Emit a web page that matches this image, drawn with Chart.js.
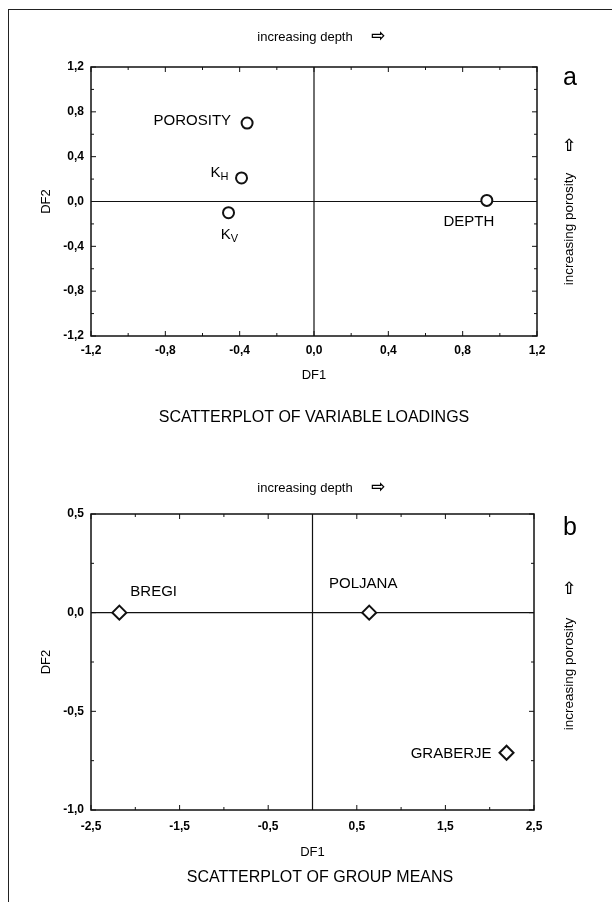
<!DOCTYPE html>
<html>
<head>
<meta charset="utf-8">
<script src="https://cdn.jsdelivr.net/npm/chart.js@4/dist/chart.umd.min.js"></script>
<style>
  body { margin: 0; background: #fff; }
  #page { position: relative; width: 612px; height: 902px; overflow: hidden; }
  #frame { position: absolute; left: 8px; top: 9px; right: 0; bottom: 0; border-top: 1px solid #222; border-left: 1px solid #222; }
  canvas { position: absolute; left: 0; }
</style>
</head>
<body>
<div id="page">
  <div id="frame"></div>
  <canvas id="chartA" width="612" height="450" style="top:0"></canvas>
  <canvas id="chartB" width="612" height="452" style="top:450px"></canvas>
</div>
<script>
// Variable loadings (panel a)
const loadingNames = ['POROSITY', 'K', 'K', 'DEPTH'];
const loadingSubs = ['', 'H', 'V', ''];
const loadingDF1 = [-0.36, -0.39, -0.46, 0.93];
const loadingDF2 = [0.70, 0.21, -0.10, 0.01];

// Group means (panel b)
const groupNames = ['BREGI', 'POLJANA', 'GRABERJE'];
const groupDF1 = [-2.18, 0.64, 2.19];
const groupDF2 = [0.00, 0.00, -0.71];

// Tick values
const ticksA = [-1.2, -0.8, -0.4, 0.0, 0.4, 0.8, 1.2];
const minorA = [-1.0, -0.6, -0.2, 0.2, 0.6, 1.0];
const ticksBX = [-2.5, -1.5, -0.5, 0.5, 1.5, 2.5];
const minorBX = [-2, -1, 0, 1, 2];
const ticksBY = [-1.0, -0.5, 0.0, 0.5];
const minorBY = [-0.75, -0.25, 0.25];

Chart.defaults.font.family = '"Liberation Sans", Arial, sans-serif';
Chart.defaults.color = '#000';

function fmt(v) {
  return Number(v).toFixed(1).replace('.', ',');
}

// label placement next to each point (style only)
const placeA = [
  { align: 'right', dx: -16, dy: -2 },
  { align: 'right', dx: -13, dy: -5 },
  { align: 'center', dx: 1, dy: 22 },
  { align: 'center', dx: -18, dy: 21 }
];
const placeB = [
  { align: 'left', dx: 11, dy: -21 },
  { align: 'center', dx: -6, dy: -29 },
  { align: 'right', dx: -15, dy: 1 }
];

function drawLabel(ctx, text, sub, x, y, align) {
  ctx.font = '15px "Liberation Sans", Arial, sans-serif';
  const w1 = ctx.measureText(text).width;
  ctx.font = '11px "Liberation Sans", Arial, sans-serif';
  const w2 = sub ? ctx.measureText(sub).width : 0;
  const total = w1 + w2;
  let left = x;
  if (align === 'right') left = x - total;
  if (align === 'center') left = x - total / 2;
  ctx.textAlign = 'left';
  ctx.textBaseline = 'middle';
  ctx.font = '15px "Liberation Sans", Arial, sans-serif';
  ctx.fillText(text, left, y);
  if (sub) {
    ctx.font = '11px "Liberation Sans", Arial, sans-serif';
    ctx.fillText(sub, left + w1, y + 4);
  }
}

function decor(opts) {
  return {
    id: 'decor',
    beforeDatasetsDraw(chart) {
      const ctx = chart.ctx;
      const a = chart.chartArea;
      const xs = chart.scales.x, ys = chart.scales.y;
      ctx.save();
      ctx.strokeStyle = '#111';
      // zero lines
      ctx.lineWidth = 1.2;
      ctx.beginPath();
      const x0 = xs.getPixelForValue(0), y0 = ys.getPixelForValue(0);
      ctx.moveTo(x0, a.top); ctx.lineTo(x0, a.bottom);
      ctx.moveTo(a.left, y0); ctx.lineTo(a.right, y0);
      ctx.stroke();
      // box
      ctx.lineWidth = 1.5;
      ctx.strokeRect(a.left, a.top, a.right - a.left, a.bottom - a.top);
      // inward ticks on all sides
      ctx.lineWidth = 1;
      ctx.beginPath();
      const tickX = (vals, len) => vals.forEach(v => {
        const p = xs.getPixelForValue(v);
        ctx.moveTo(p, a.bottom); ctx.lineTo(p, a.bottom - len);
        ctx.moveTo(p, a.top); ctx.lineTo(p, a.top + len);
      });
      const tickY = (vals, len) => vals.forEach(v => {
        const p = ys.getPixelForValue(v);
        ctx.moveTo(a.left, p); ctx.lineTo(a.left + len, p);
        ctx.moveTo(a.right, p); ctx.lineTo(a.right - len, p);
      });
      tickX(xs.ticks.map(t => t.value), 5);
      tickX(opts.minorX, 3);
      tickY(ys.ticks.map(t => t.value), 5);
      tickY(opts.minorY, 3);
      ctx.stroke();
      ctx.restore();
    },
    afterDraw(chart) {
      const ctx = chart.ctx;
      const a = chart.chartArea;
      const meta = chart.getDatasetMeta(0);
      ctx.save();
      ctx.fillStyle = '#000';
      // point labels
      meta.data.forEach((pt, i) => {
        const pl = opts.place[i];
        drawLabel(ctx, opts.names[i], opts.subs[i], pt.x + pl.dx, pt.y + pl.dy, pl.align);
      });
      // top note
      ctx.textBaseline = 'middle';
      ctx.textAlign = 'center';
      ctx.font = '13px "Liberation Sans", Arial, sans-serif';
      ctx.fillText('increasing depth', 305, opts.topY);
      ctx.font = 'bold 17px "DejaVu Sans", sans-serif';
      ctx.fillText('\u21E8', 378, opts.topY);
      // panel letter
      ctx.font = '25px "Liberation Sans", Arial, sans-serif';
      ctx.fillText(opts.letter, 570, opts.letterY);
      // up arrow and porosity note
      ctx.font = 'bold 17px "DejaVu Sans", sans-serif';
      ctx.fillText('\u21E7', 569, opts.upY);
      ctx.save();
      ctx.translate(569, opts.porY);
      ctx.rotate(-Math.PI / 2);
      ctx.font = '13.5px "Liberation Sans", Arial, sans-serif';
      ctx.fillText('increasing porosity', 0, 0);
      ctx.restore();
      // axis titles
      ctx.font = '13px "Liberation Sans", Arial, sans-serif';
      ctx.fillText('DF1', (a.left + a.right) / 2, opts.df1Y);
      ctx.save();
      ctx.translate(46, (a.top + a.bottom) / 2);
      ctx.rotate(-Math.PI / 2);
      ctx.fillText('DF2', 0, 0);
      ctx.restore();
      // caption
      ctx.font = '16px "Liberation Sans", Arial, sans-serif';
      ctx.fillText(opts.caption, opts.capX, opts.capY);
      ctx.restore();
    }
  };
}

function makeChart(id, xs, ys, pointStyle, radius, x, y, pad) {
  return new Chart(document.getElementById(id), {
    type: 'scatter',
    data: {
      datasets: [{
        data: xs.map((v, i) => ({ x: v, y: ys[i] })),
        pointStyle: pointStyle,
        pointRadius: radius,
        pointHoverRadius: radius,
        pointBorderWidth: 2,
        pointBorderColor: '#111',
        pointBackgroundColor: '#fff'
      }]
    },
    options: {
      responsive: false,
      animation: false,
      events: [],
      layout: { padding: pad },
      plugins: { legend: { display: false }, tooltip: { enabled: false } },
      scales: {
        x: {
          type: 'linear',
          min: x.min, max: x.max,
          afterBuildTicks: s => { s.ticks = x.ticks.map(v => ({ value: v })); },
          afterFit: s => { s.height = 40; },
          grid: { display: false, drawTicks: false },
          border: { display: false },
          ticks: { padding: x.pad, autoSkip: false, maxRotation: 0, font: { size: 12, weight: 'bold' }, callback: fmt }
        },
        y: {
          type: 'linear',
          min: y.min, max: y.max,
          afterBuildTicks: s => { s.ticks = y.ticks.map(v => ({ value: v })); },
          afterFit: s => { s.width = 50; },
          grid: { display: false, drawTicks: false },
          border: { display: false },
          ticks: { padding: 7, autoSkip: false, font: { size: 12, weight: 'bold' }, callback: fmt }
        }
      }
    },
    plugins: [decor(pad.decor)]
  });
}

const chartA = makeChart('chartA', loadingDF1, loadingDF2, 'circle', 5.5,
  { min: -1.2, max: 1.2, ticks: ticksA, pad: 7 },
  { min: -1.2, max: 1.2, ticks: ticksA },
  {
    top: 67, left: 41, right: 75, bottom: 74,
    decor: {
      names: loadingNames, subs: loadingSubs, place: placeA,
      minorX: minorA, minorY: minorA,
      letter: 'a', letterY: 78, topY: 37, upY: 147, porY: 229,
      df1Y: 375, caption: 'SCATTERPLOT OF VARIABLE LOADINGS', capX: 314, capY: 418
    }
  });

const chartB = makeChart('chartB', groupDF1, groupDF2, 'rectRot', 7,
  { min: -2.5, max: 2.5, ticks: ticksBX, pad: 9 },
  { min: -1.0, max: 0.5, ticks: ticksBY },
  {
    top: 64, left: 41, right: 78, bottom: 52,
    decor: {
      names: groupNames, subs: ['', '', ''], place: placeB,
      minorX: minorBX, minorY: minorBY,
      letter: 'b', letterY: 78, topY: 38, upY: 140, porY: 224,
      df1Y: 402, caption: 'SCATTERPLOT OF GROUP MEANS', capX: 320, capY: 428
    }
  });
</script>
</body>
</html>
